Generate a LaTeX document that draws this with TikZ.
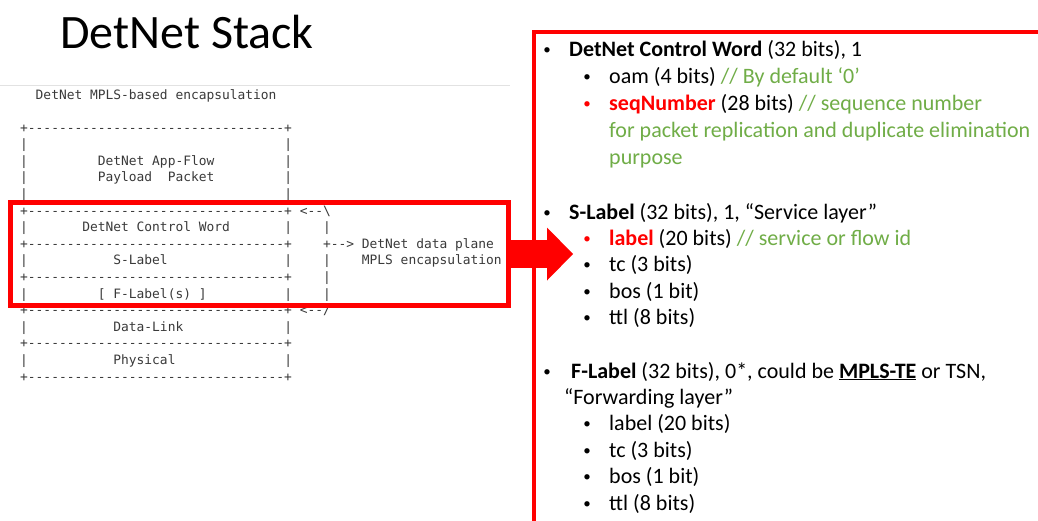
\documentclass[tikz,border=0pt]{standalone}
\usepackage{fontspec}
\setmainfont{Carlito}
\setmonofont{DejaVu Sans Mono}
\usetikzlibrary{arrows.meta}

\definecolor{boxred}{HTML}{FF0000}
\definecolor{notegreen}{HTML}{70AD47}
\definecolor{asciigray}{HTML}{3A3A3A}
\definecolor{rulegray}{HTML}{E2E2E2}

\newcommand{\asciifont}{\ttfamily\fontsize{12.9}{15}\selectfont}
\newcommand{\listfont}{\fontsize{22}{26}\selectfont}
\newcommand{\blanks}[1]{\hspace*{\dimexpr #1\fontdimen2\font\relax}}
\newcommand{\dashrule}{+---------------------------------+}

\begin{document}
\begin{tikzpicture}[x=1pt,y=-1pt,
  ascii/.style={font=\asciifont, text=asciigray, anchor=base west, inner sep=0pt},
  txtrow/.style={at={(20,{99+#1*16.59})}},
  entry/.style={font=\listfont, anchor=base west, inner sep=0pt},
  dot/.style={font=\fontsize{15}{18}\selectfont, anchor=base, inner sep=0pt, yshift=2pt},
  redbox/.style={draw=boxred, line width=5pt, inner sep=0pt},
  blockarrow/.style={draw=boxred, line width=28pt,
    -{Triangle[length=26pt,width=53pt,line width=0pt]}}]
\clip (0,0) rectangle (1038,520);
\fill[white] (0,0) rectangle (1038,520);

\node[font=\fontsize{48}{56}\selectfont, anchor=base west, inner sep=0pt] (title) at (60,48) {DetNet Stack};

% the RFC figure
\draw[rulegray] (0,85) -- (510,85);
\node[ascii, txtrow=0] (l0) {\blanks{2}DetNet MPLS-based encapsulation};
\node[ascii, txtrow=2] (l2) {\dashrule};
\node[ascii, txtrow=3] (l3) {|\blanks{33}|};
\node[ascii, txtrow=4] (l4) {|\blanks{9}DetNet App-Flow\blanks{9}|};
\node[ascii, txtrow=5] (l5) {|\blanks{9}Payload\blanks{2}Packet\blanks{9}|};
\node[ascii, txtrow=6] (l6) {|\blanks{33}|};
\node[ascii, txtrow=7] (l7) {\dashrule\blanks{1}<--\textbackslash};
\node[ascii, txtrow=8] (l8) {|\blanks{7}DetNet Control Word\blanks{7}|\blanks{4}|};
\node[ascii, txtrow=9] (l9) {\dashrule\blanks{4}+--> DetNet data plane};
\node[ascii, txtrow=10] (l10) {|\blanks{11}S-Label\blanks{15}|\blanks{4}|\blanks{4}MPLS encapsulation};
\node[ascii, txtrow=11] (l11) {\dashrule\blanks{4}|};
\node[ascii, txtrow=12] (l12) {|\blanks{9}[ F-Label(s) ]\blanks{10}|\blanks{4}|};
\node[ascii, txtrow=13] (l13) {\dashrule\blanks{1}<--/};
\node[ascii, txtrow=14] (l14) {|\blanks{11}Data-Link\blanks{13}|};
\node[ascii, txtrow=15] (l15) {\dashrule};
\node[ascii, txtrow=16] (l16) {|\blanks{11}Physical\blanks{14}|};
\node[ascii, txtrow=17] (l17) {\dashrule};

\node[redbox, minimum width=498pt, minimum height=103pt] (stack) at (259.5,254) {};

% field list
\node[draw=boxred, line width=3.5pt, outer sep=0pt, inner sep=0pt, anchor=north west,
  minimum width=600pt, minimum height=600pt] (fields) at (534,32) {};

\node[dot] (b1) at (547,56) {•};
\node[entry] (cw) at (569,56) {\textbf{DetNet Control Word} (32 bits), 1};
\node[dot] (b2) at (587,83.3) {•};
\node[entry] (oam) at (609,83.3) {oam (4 bits) \textcolor{notegreen}{// By default ‘0’}};
\node[dot, text=boxred] (b3) at (587,110.5) {•};
\node[entry] (seq) at (609,110.5) {\textcolor{boxred}{\textbf{seqNumber}} (28 bits) \textcolor{notegreen}{// sequence number}};
\node[entry, text=notegreen] (seqa) at (609,137.7) {for packet replication and duplicate elimination};
\node[entry, text=notegreen] (seqb) at (609,164.5) {purpose};

\node[dot] (b4) at (547,219.5) {•};
\node[entry] (slabel) at (569,219.5) {\textbf{S-Label} (32 bits), 1, “Service layer”};
\node[dot, text=boxred] (b5) at (587,245.7) {•};
\node[entry] (slbl) at (609,245.7) {\textcolor{boxred}{\textbf{label}} (20 bits) \textcolor{notegreen}{// service or flow id}};
\node[dot] (b6) at (587,271.9) {•};
\node[entry] (stc) at (609,271.9) {tc (3 bits)};
\node[dot] (b7) at (587,298.1) {•};
\node[entry] (sbos) at (609,298.1) {bos (1 bit)};
\node[dot] (b8) at (587,324.3) {•};
\node[entry] (sttl) at (609,324.3) {ttl (8 bits)};

\node[dot] (b9) at (547,378) {•};
\node[entry] (flabel) at (571,378) {\textbf{F-Label} (32 bits), 0*, could be \underline{\textbf{MPLS-TE}} or TSN,};
\node[entry] (fwd) at (564,404.4) {“Forwarding layer”};
\node[dot] (b10) at (587,430.8) {•};
\node[entry] (flbl) at (609,430.8) {label (20 bits)};
\node[dot] (b11) at (587,457.2) {•};
\node[entry] (ftc) at (609,457.2) {tc (3 bits)};
\node[dot] (b12) at (587,483.6) {•};
\node[entry] (fbos) at (609,483.6) {bos (1 bit)};
\node[dot] (b13) at (587,510) {•};
\node[entry] (fttl) at (609,510) {ttl (8 bits)};

\coordinate (tip) at (573,254);
\draw[blockarrow] (stack.east) -- (tip);

\end{tikzpicture}
\end{document}
